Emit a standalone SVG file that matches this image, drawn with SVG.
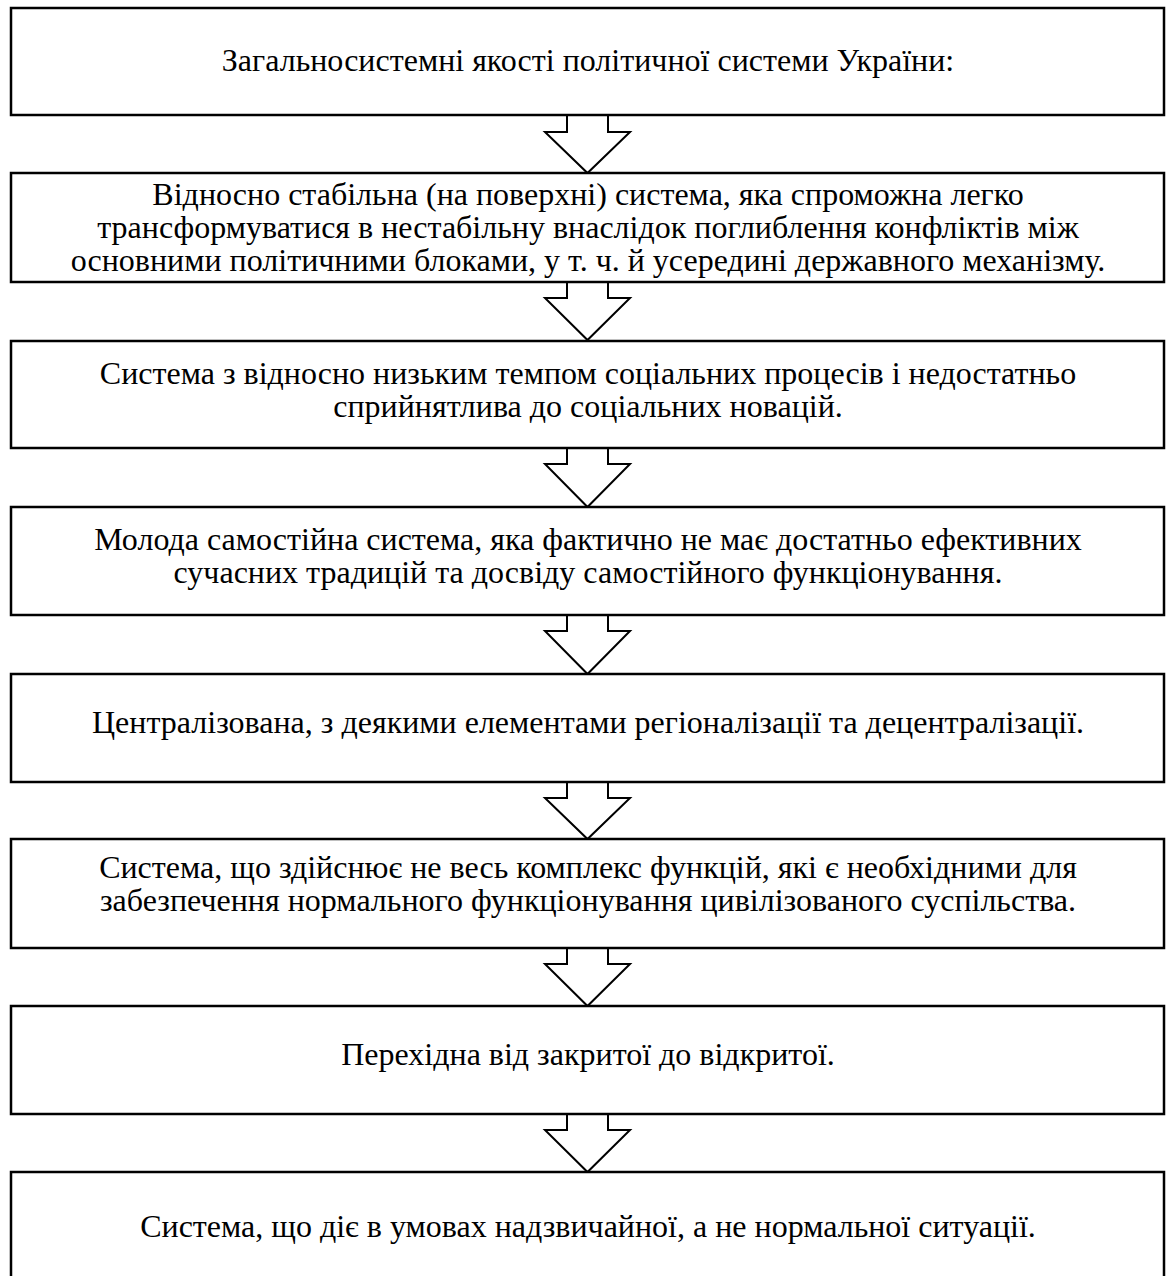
<svg xmlns="http://www.w3.org/2000/svg" width="1170" height="1276" viewBox="0 0 1170 1276">
  <style>
    .box { fill: #fff; stroke: #000; stroke-width: 2.5; }
    .arrow { fill: none; stroke: #000; stroke-width: 2; stroke-linejoin: miter; }
    text { font-family: "Liberation Serif", "Times New Roman", serif; font-size: 32px; fill: #000; text-anchor: middle; }
  </style>
  <rect width="1170" height="1276" fill="#fff"/>

  <g id="connectors">
    <path class="arrow" d="M567,115 V132 H545 L587.5,173 L630,132 H608 V115"/>
    <path class="arrow" d="M567,282 V298 H545 L587.5,340 L630,298 H608 V282"/>
    <path class="arrow" d="M567,448 V464 H545 L587.5,507 L630,464 H608 V448"/>
    <path class="arrow" d="M567,615 V631 H545 L587.5,674 L630,631 H608 V615"/>
    <path class="arrow" d="M567,782 V798 H545 L587.5,839 L630,798 H608 V782"/>
    <path class="arrow" d="M567,948 V964 H545 L587.5,1006 L630,964 H608 V948"/>
    <path class="arrow" d="M567,1114 V1130 H545 L587.5,1172 L630,1130 H608 V1114"/>
  </g>

  <g id="node1">
    <rect class="box" x="11" y="8" width="1153" height="107"/>
    <text x="588" y="71">Загальносистемні якості політичної системи України:</text>
  </g>
  <g id="node2">
    <rect class="box" x="11" y="173" width="1153" height="109"/>
    <text x="588" y="205">Відносно стабільна (на поверхні) система, яка спроможна легко</text>
    <text x="588" y="238">трансформуватися в нестабільну внаслідок поглиблення конфліктів між</text>
    <text x="588" y="271">основними політичними блоками, у т. ч. й усередині державного механізму.</text>
  </g>
  <g id="node3">
    <rect class="box" x="11" y="341" width="1153" height="107"/>
    <text x="588" y="384">Система з відносно низьким темпом соціальних процесів і недостатньо</text>
    <text x="588" y="417">сприйнятлива до соціальних новацій.</text>
  </g>
  <g id="node4">
    <rect class="box" x="11" y="507" width="1153" height="108"/>
    <text x="588" y="550">Молода самостійна система, яка фактично не має достатньо ефективних</text>
    <text x="588" y="583">сучасних традицій та досвіду самостійного функціонування.</text>
  </g>
  <g id="node5">
    <rect class="box" x="11" y="674" width="1153" height="108"/>
    <text x="588" y="733">Централізована, з деякими елементами регіоналізації та децентралізації.</text>
  </g>
  <g id="node6">
    <rect class="box" x="11" y="839" width="1153" height="109"/>
    <text x="588" y="878">Система, що здійснює не весь комплекс функцій, які є необхідними для</text>
    <text x="588" y="911">забезпечення нормального функціонування цивілізованого суспільства.</text>
  </g>
  <g id="node7">
    <rect class="box" x="11" y="1006" width="1153" height="108"/>
    <text x="588" y="1065">Перехідна від закритої до відкритої.</text>
  </g>
  <g id="node8">
    <rect class="box" x="11" y="1172" width="1153" height="120"/>
    <text x="588" y="1237">Система, що діє в умовах надзвичайної, а не нормальної ситуації.</text>
  </g>
</svg>
